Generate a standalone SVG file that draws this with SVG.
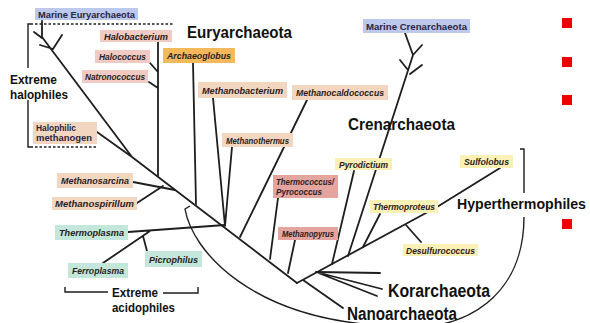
<svg xmlns="http://www.w3.org/2000/svg" width="590" height="323" viewBox="0 0 590 323">
<style>
.ln{fill:none;stroke:#1e1e1e;stroke-width:1.8;stroke-linecap:round;stroke-linejoin:round}
.dot{fill:none;stroke:#1e1e1e;stroke-width:1.6;stroke-dasharray:2.5 2}
.br{fill:none;stroke:#1e1e1e;stroke-width:1.4}
.t{font-family:"Liberation Sans",Arial,sans-serif;font-weight:bold;font-style:italic;font-size:8.5px;fill:#2a2222}
.tn{font-family:"Liberation Sans",Arial,sans-serif;font-weight:bold;font-size:8.5px;fill:#2a2440}
.big{font-family:"Liberation Sans",Arial,sans-serif;font-weight:bold;fill:#111}
.blue{fill:#bcc8ec}.pink{fill:#f0cac3}.orange{fill:#f3b95a}.tan{fill:#f3d6c0}.red{fill:#e4a59f}.mint{fill:#c3e7db}.yel{fill:#fbf0b5}
.sq{fill:#ee0000}
</style>
<g id="connectors">
<path class="ln" d="M42,21 V37 M34,32 L42,38 M42,37 L132,157 L297,283 M40,45 L53,49 M62,35 L53,49 M97,132 L132,157"/>
<path class="ln" d="M158,42 V176 M150,63 L158,72 M149,82 L158,88"/>
<path class="ln" d="M193,63 L196,204"/>
<path class="ln" d="M133,182 L175,190 M137,203 L163,186"/>
<path class="ln" d="M128,232 L225,225 M103,263 L150,231 M147,251 L143,236"/>
<path class="ln" d="M213,98 L225,226 M232,147 L225,226 M307,100 L240,237"/>
<path class="ln" d="M278,198 L270,259 M295,240 L288,273"/>
<path class="ln" d="M297,283 L437,207 L500,168 M303,280 L343,308"/>
<path class="ln" d="M406,225 L421,242 M363,247 L380,214 M354,171 L332,264"/>
<path class="ln" d="M413,55 L348,256 M405,33 L413,55 M422,45 L413,55 M400,60 L408,70 M422,65 L410,74"/>
<path class="ln" d="M316,272 L380,273 M316,272 L382,289 M316,272 L377,296"/>
<path class="br" d="M190,206 L185,209 C192,250 250,320 390,326"/>
<path class="br" d="M390,326 C470,335 524,292 524,217"/>
<path class="br" d="M520,149 H524 V193"/>
<path class="br" d="M33,24 H28 V68 M28,100 V147 H33"/>
<path class="dot" d="M35,24 H173 M35,147 H97"/>
<path class="br" d="M65,287 V292 H108 M163,293 H198 V287"/>
</g>
<g id="marine-eury"><rect class="blue" x="35" y="8" width="103" height="12"/><text class="tn" x="38" y="17.5" textLength="97" lengthAdjust="spacingAndGlyphs">Marine Euryarchaeota</text></g>
<g id="halobacterium"><rect class="pink" x="100" y="30" width="72" height="12"/><text class="t" x="104" y="39.5" textLength="64" lengthAdjust="spacingAndGlyphs">Halobacterium</text></g>
<g id="halococcus"><rect class="pink" x="95" y="50" width="55" height="13"/><text class="t" x="99" y="60" textLength="47" lengthAdjust="spacingAndGlyphs">Halococcus</text></g>
<g id="natronococcus"><rect class="pink" x="82" y="70" width="66" height="13"/><text class="t" x="85" y="80" textLength="60" lengthAdjust="spacingAndGlyphs">Natronococcus</text></g>
<g id="archaeoglobus"><rect class="orange" x="163" y="48" width="72" height="15"/><text class="t" x="167" y="59" textLength="64" lengthAdjust="spacingAndGlyphs">Archaeoglobus</text></g>
<g id="halophilic-methanogen"><rect class="tan" x="33" y="122" width="64" height="22"/><text class="tn" x="36" y="131" textLength="40" lengthAdjust="spacingAndGlyphs">Halophilic</text><text class="tn" x="36" y="141" textLength="56" lengthAdjust="spacingAndGlyphs">methanogen</text></g>
<g id="methanobacterium"><rect class="tan" x="198" y="82" width="89" height="16"/><text class="t" x="202" y="93.5" textLength="81" lengthAdjust="spacingAndGlyphs">Methanobacterium</text></g>
<g id="methanocaldococcus"><rect class="tan" x="292" y="85" width="96" height="15"/><text class="t" x="296" y="96" textLength="88" lengthAdjust="spacingAndGlyphs">Methanocaldococcus</text></g>
<g id="methanothermus"><rect class="tan" x="222" y="133" width="71" height="14"/><text class="t" x="226" y="143.5" textLength="63" lengthAdjust="spacingAndGlyphs">Methanothermus</text></g>
<g id="thermococcus"><rect class="red" x="273" y="175" width="65" height="23"/><text class="t" x="276" y="185" textLength="58" lengthAdjust="spacingAndGlyphs">Thermococcus/</text><text class="t" x="276" y="195" textLength="46" lengthAdjust="spacingAndGlyphs">Pyrococcus</text></g>
<g id="methanopyrus"><rect class="red" x="278" y="227" width="60" height="13"/><text class="t" x="282" y="237" textLength="52" lengthAdjust="spacingAndGlyphs">Methanopyrus</text></g>
<g id="pyrodictium"><rect class="yel" x="335" y="158" width="57" height="12"/><text class="t" x="339" y="167.5" textLength="49" lengthAdjust="spacingAndGlyphs">Pyrodictium</text></g>
<g id="sulfolobus"><rect class="yel" x="460" y="155" width="53" height="13"/><text class="t" x="464" y="165" textLength="45" lengthAdjust="spacingAndGlyphs">Sulfolobus</text></g>
<g id="thermoproteus"><rect class="yel" x="370" y="200" width="68" height="13"/><text class="t" x="373" y="210" textLength="62" lengthAdjust="spacingAndGlyphs">Thermoproteus</text></g>
<g id="desulfurococcus"><rect class="yel" x="403" y="244" width="75" height="12"/><text class="t" x="406" y="253.5" textLength="69" lengthAdjust="spacingAndGlyphs">Desulfurococcus</text></g>
<g id="methanosarcina"><rect class="tan" x="57" y="173" width="76" height="15"/><text class="t" x="61" y="184" textLength="68" lengthAdjust="spacingAndGlyphs">Methanosarcina</text></g>
<g id="methanospirillum"><rect class="tan" x="52" y="197" width="85" height="13"/><text class="t" x="55" y="207" textLength="79" lengthAdjust="spacingAndGlyphs">Methanospirillum</text></g>
<g id="thermoplasma"><rect class="mint" x="55" y="225" width="73" height="15"/><text class="t" x="59" y="236" textLength="65" lengthAdjust="spacingAndGlyphs">Thermoplasma</text></g>
<g id="ferroplasma"><rect class="mint" x="68" y="263" width="60" height="15"/><text class="t" x="72" y="274" textLength="52" lengthAdjust="spacingAndGlyphs">Ferroplasma</text></g>
<g id="picrophilus"><rect class="mint" x="145" y="251" width="57" height="16"/><text class="t" x="149" y="262.5" textLength="49" lengthAdjust="spacingAndGlyphs">Picrophilus</text></g>
<g id="marine-cren"><rect class="blue" x="363" y="19" width="107" height="14"/><text class="tn" x="366" y="29.5" textLength="101" lengthAdjust="spacingAndGlyphs">Marine Crenarchaeota</text></g>
<g id="group-labels">
<text class="big" x="187" y="37.5" font-size="16" textLength="105" lengthAdjust="spacingAndGlyphs">Euryarchaeota</text>
<text class="big" x="348" y="130" font-size="17" textLength="107" lengthAdjust="spacingAndGlyphs">Crenarchaeota</text>
<text class="big" x="457" y="209" font-size="14" textLength="129" lengthAdjust="spacingAndGlyphs">Hyperthermophiles</text>
<text class="big" x="388" y="297" font-size="18" textLength="102" lengthAdjust="spacingAndGlyphs">Korarchaeota</text>
<text class="big" x="347" y="320" font-size="18" textLength="110" lengthAdjust="spacingAndGlyphs">Nanoarchaeota</text>
<text class="big" x="10" y="84" font-size="13" textLength="47" lengthAdjust="spacingAndGlyphs">Extreme</text>
<text class="big" x="10" y="99" font-size="13" textLength="58" lengthAdjust="spacingAndGlyphs">halophiles</text>
<text class="big" x="112" y="297" font-size="13" textLength="46" lengthAdjust="spacingAndGlyphs">Extreme</text>
<text class="big" x="112" y="312" font-size="13" textLength="63" lengthAdjust="spacingAndGlyphs">acidophiles</text>
</g>
<g id="bullets">
<rect class="sq" x="562" y="18" width="10" height="10"/>
<rect class="sq" x="562" y="57" width="10" height="10"/>
<rect class="sq" x="562" y="95" width="10" height="10"/>
<rect class="sq" x="562" y="219" width="10" height="10"/>
</g>
</svg>
